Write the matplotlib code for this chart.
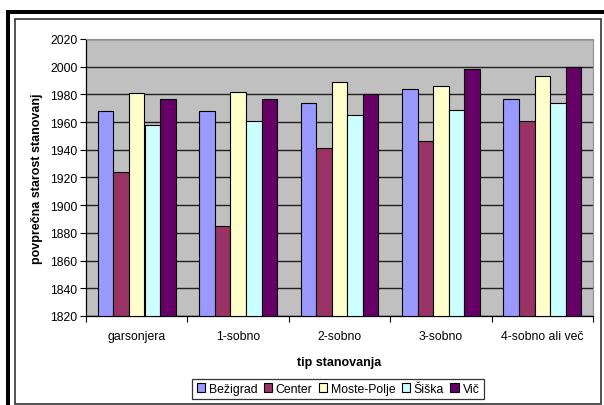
import numpy as np
import matplotlib.pyplot as plt
from matplotlib.patches import Rectangle

plt.rcParams['font.family'] = ['Liberation Sans', 'DejaVu Sans']

categories = ['garsonjera', '1-sobno', '2-sobno', '3-sobno', '4-sobno ali več']
districts = ['Bežigrad', 'Center', 'Moste-Polje', 'Šiška', 'Vič']
bezigrad = [1968, 1968, 1974, 1984, 1977]
center = [1924, 1885, 1941, 1946, 1961]
moste_polje = [1981, 1982, 1989, 1986, 1993]
siska = [1958, 1961, 1965, 1969, 1974]
vic = [1977, 1977, 1980, 1998, 2000]
series = [bezigrad, center, moste_polje, siska, vic]
colors = ['#9999FF', '#993366', '#FFFFCC', '#CCFFFF', '#660066']

W, H = 604, 406
fig = plt.figure(figsize=(W / 100, H / 100), dpi=100)

# frame: thick black top/left, thin inner border
fig.patches.append(Rectangle((6 / W, (H - 15) / H), 598 / W, 4 / H, transform=fig.transFigure,
                             facecolor='black', edgecolor='none'))
fig.patches.append(Rectangle((6 / W, 0), 4 / W, (H - 11) / H, transform=fig.transFigure,
                             facecolor='black', edgecolor='none'))
fig.patches.append(Rectangle((14.5 / W, (H - 404.5) / H), 586 / W, 385 / H, transform=fig.transFigure,
                             facecolor='none', edgecolor='#333333', linewidth=1.2))

ax = fig.add_axes([86 / W, (H - 317) / H, (593 - 86) / W, (317 - 40) / H])
ax.set_facecolor('#C0C0C0')

n = len(series)
bw = 1 / (n + 1.5)
x = np.arange(len(categories))
for i, (vals, c, name) in enumerate(zip(series, colors, districts)):
    offs = (i - (n - 1) / 2) * bw
    heights = np.array(vals) - 1820
    ax.bar(x + offs, heights, bw, bottom=1820, color=c, edgecolor='black',
           linewidth=0.8, label=name, zorder=3)

ax.set_xlim(-0.5, len(categories) - 0.5)
ax.set_ylim(1820, 2020)
ax.set_yticks(np.arange(1820, 2021, 20))
ax.yaxis.grid(True, color='#202020', linewidth=1.0, zorder=1)
ax.set_axisbelow(True)
ax.set_xticks(x)
ax.set_xticklabels(categories)
ax.set_xticks(np.arange(-0.5, len(categories)), minor=True)
ax.tick_params(axis='x', which='major', length=0, labelsize=8.8, pad=10)
ax.tick_params(axis='x', which='minor', length=4, width=0.8, direction='out')
ax.tick_params(axis='y', length=4, width=0.8, labelsize=8.8, pad=2)

for s in ['top', 'right']:
    ax.spines[s].set_color('#909090')
for s in ['left', 'bottom']:
    ax.spines[s].set_color('black')
    ax.spines[s].set_linewidth(0.9)

ax.set_xlabel('tip stanovanja', fontsize=9, fontweight='bold', labelpad=10)
ax.set_ylabel('povprečna starost stanovanj', fontsize=9, fontweight='bold', labelpad=5)

leg = fig.legend(loc='center', bbox_to_anchor=(338 / W, (H - 390) / H), ncol=5, fontsize=8.8,
                 frameon=True, fancybox=False, shadow=False, handlelength=0.7, handleheight=0.7,
                 handletextpad=0.3, columnspacing=0.5, borderpad=0.35, borderaxespad=0)
leg.get_frame().set_edgecolor('black')
leg.get_frame().set_linewidth(0.9)

fig.savefig('out.png', dpi=100)
